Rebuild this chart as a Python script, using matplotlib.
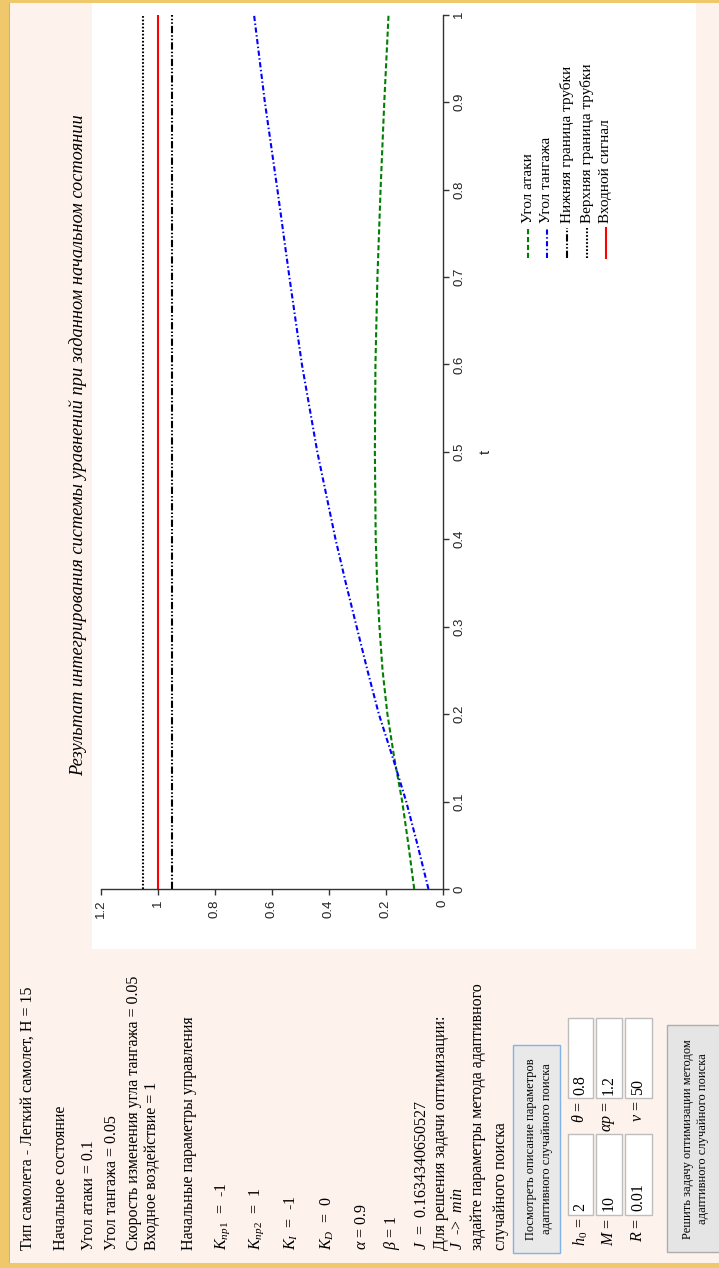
import matplotlib
matplotlib.use("Agg")
import matplotlib.pyplot as plt
from matplotlib.patches import Rectangle
from matplotlib.lines import Line2D

plt.rcParams['mathtext.fontset'] = 'custom'
plt.rcParams['mathtext.rm'] = 'Liberation Serif'
plt.rcParams['mathtext.it'] = 'Liberation Serif:italic'
plt.rcParams['mathtext.bf'] = 'Liberation Serif:bold'

# --- данные графика ---
t = [0, 0.05, 0.1, 0.15, 0.2, 0.25, 0.3, 0.35, 0.4, 0.5, 0.6, 0.7, 0.8, 0.9, 1.0]
ugol_ataki = [0.100, 0.120, 0.142, 0.170, 0.194, 0.211, 0.222, 0.230, 0.235,
              0.238, 0.236, 0.229, 0.218, 0.205, 0.190]
ugol_tangazha = [0.050, 0.088, 0.128, 0.175, 0.224, 0.264, 0.302, 0.340, 0.376,
                 0.440, 0.494, 0.538, 0.580, 0.624, 0.662]
t_granic = [0, 1]
nizhnyaya = [0.95, 0.95]
verhnyaya = [1.05, 1.05]
vhod = [1.0, 1.0]

val_ticks = [0, 0.2, 0.4, 0.6, 0.8, 1.0, 1.2]
val_labels = ['0', '0.2', '0.4', '0.6', '0.8', '1', '1.2']
t_ticks = [0, 0.1, 0.2, 0.3, 0.4, 0.5, 0.6, 0.7, 0.8, 0.9, 1.0]
t_labels = ['0', '0.1', '0.2', '0.3', '0.4', '0.5', '0.6', '0.7', '0.8', '0.9', '1']

legenda = ['Угол атаки', 'Угол тангажа', 'Нижняя граница трубки',
           'Верхняя граница трубки', 'Входной сигнал']

zagolovok = 'Результат интегрирования системы уравнений при заданном начальном состоянии'

panel_stroki = [
    'Тип самолета - Легкий самолет, H = 15',
    'Начальное состояние',
    'Угол атаки = 0.1',
    'Угол тангажа = 0.05',
    'Скорость изменения угла тангажа = 0.05',
    'Входное воздействие = 1',
    'Начальные параметры управления',
    r'$K_{пр1}$  =  -1',
    r'$K_{пр2}$  =  1',
    r'$K_{I}$  =  -1',
    r'$K_{D}$  =  0',
    r'$\alpha$ = 0.9',
    r'$\beta$ = 1',
    r'$J$  =  0.1634340650527',
    'Для решения задачи оптимизации:',
    r'$J$  ->  $min$',
    'задайте параметры метода адаптивного',
    'случайного поиска',
]
panel_x = [28, 61, 89, 112, 134, 152, 189, 223, 257, 291, 327,
           362, 392, 422, 441, 458, 478, 501]

param_nazv = [r'$h_0$ =', r'$M$ =', r'$R$ =', r'$\theta$ =', r'$\alpha p$ =', r'$\nu$ =']
param_znach = ['2', '10', '0.01', '0.8', '1.2', '50']

W, H = 719, 1268
KREM = '#FDF2EC'
ZOLOTO = '#F0C86C'


def fx(x):
    return x / W


def fy(y):
    return 1 - y / H


def box(fig, x0, y0, x1, y1, fc, ec='none', lw=1.0, z=-5):
    fig.add_artist(Rectangle((fx(x0), fy(y1)), (x1 - x0) / W, (y1 - y0) / H,
                             transform=fig.transFigure, facecolor=fc,
                             edgecolor=ec, linewidth=lw, zorder=z))


def rtext(fig, x, y, s, size=11.5, ha='left', va='center', **kw):
    fig.text(fx(x), fy(y), s, rotation=90, rotation_mode='anchor',
             ha=ha, va=va, fontsize=size, family='Liberation Serif', **kw)


fig = plt.figure(figsize=(W / 100, H / 100), dpi=100, facecolor=KREM)

# рамка страницы
box(fig, 0, 0, 9, H, ZOLOTO)
box(fig, 0, 0, W, 3, ZOLOTO)
box(fig, 0, 1263, W, H, ZOLOTO)
box(fig, 9, 3, 10, 1263, '#D8B25A')

# белая область графика
box(fig, 92, 3, 696, 949, 'white', z=-10)

# график (повернут на 90 градусов)
ax = fig.add_axes([fx(100.7), fy(889), 342 / W, 874.3 / H])
ax.set_zorder(2)
ax.set_facecolor('none')
ax.plot(ugol_ataki, t, color='#008000', lw=1.5, dashes=(2.5, 1.3))
ax.plot(ugol_tangazha, t, color='#0000FF', lw=1.5, dashes=(2.5, 1.2, 0.7, 1.2))
ax.plot(nizhnyaya, t_granic, color='black', lw=1.5, dashes=(3.5, 1, 0.7, 1, 0.7, 1))
ax.plot(verhnyaya, t_granic, color='black', lw=1.5, dashes=(0.8, 0.9))
ax.plot(vhod, t_granic, color='#FF0000', lw=1.5)
ax.set_xlim(1.2, 0)
ax.set_ylim(0, 1)
ax.spines['top'].set_visible(False)
ax.spines['left'].set_visible(False)
for sp in ('bottom', 'right'):
    ax.spines[sp].set_color('#333333')
    ax.spines[sp].set_linewidth(1.0)
ax.yaxis.tick_right()
ax.set_xticks(val_ticks)
ax.set_xticklabels(val_labels, rotation=90, family='Liberation Sans', fontsize=9.5,
                   color='#222222')
ax.set_yticks(t_ticks)
ax.set_yticklabels(t_labels, rotation=90, va='center', family='Liberation Sans',
                   fontsize=9.5, color='#222222')
ax.tick_params(axis='both', length=4.5, width=1.0, color='#333333', pad=3)
fig.text(fx(486), fy(452), 't', rotation=90, ha='center', va='center',
         family='Liberation Sans', fontsize=10.5, color='#222222')

# заголовок
fig.text(fx(78), fy(445), zagolovok, rotation=90, ha='center', va='center',
         family='Liberation Serif', style='italic', fontsize=13.2)

# легенда
stili = [dict(color='#008000', dashes=(2.5, 1.3)),
         dict(color='#0000FF', dashes=(2.5, 1.2, 0.7, 1.2)),
         dict(color='black', dashes=(3.5, 1, 0.7, 1, 0.7, 1)),
         dict(color='black', dashes=(0.8, 0.9)),
         dict(color='#FF0000')]
leg_x = [528, 547, 567, 587, 606]
for name, st, lx in zip(legenda, stili, leg_x):
    fig.add_artist(Line2D([fx(lx), fx(lx)], [fy(258), fy(228)], lw=1.5,
                          transform=fig.transFigure, **st))
    rtext(fig, lx, 223, name, size=11)

# левая панель
for s, x in zip(panel_stroki, panel_x):
    rtext(fig, x, 1250, s)

# кнопка описания
box(fig, 513, 1045, 560, 1253, '#E9E9E9', ec='#7EB4EA')
rtext(fig, 531, 1149, 'Посмотреть описание параметров', size=9, ha='center')
rtext(fig, 547, 1149, 'адаптивного случайного поиска', size=9, ha='center')

# поля ввода параметров
ryad_x = [(568, 593), (596, 622), (625, 652)]
for i in range(3):
    x0, x1 = ryad_x[i]
    xc = (x0 + x1) / 2
    # левое поле
    box(fig, x0, 1134, x1, 1215, 'white', ec='#BDBDBD')
    rtext(fig, xc, 1218, param_nazv[i], ha='right')
    rtext(fig, xc, 1211, param_znach[i])
    # правое поле
    box(fig, x0, 1018, x1, 1098, 'white', ec='#BDBDBD')
    rtext(fig, xc, 1101, param_nazv[i + 3], ha='right')
    rtext(fig, xc, 1095, param_znach[i + 3])

# кнопка решения
box(fig, 667, 1025, 725, 1252, '#E5E5E5', ec='#ADADAD')
rtext(fig, 688, 1139, 'Решить задачу оптимизации методом', size=9, ha='center')
rtext(fig, 703, 1139, 'адаптивного случайного поиска', size=9, ha='center')

fig.savefig('out.png', dpi=100, facecolor=KREM)
